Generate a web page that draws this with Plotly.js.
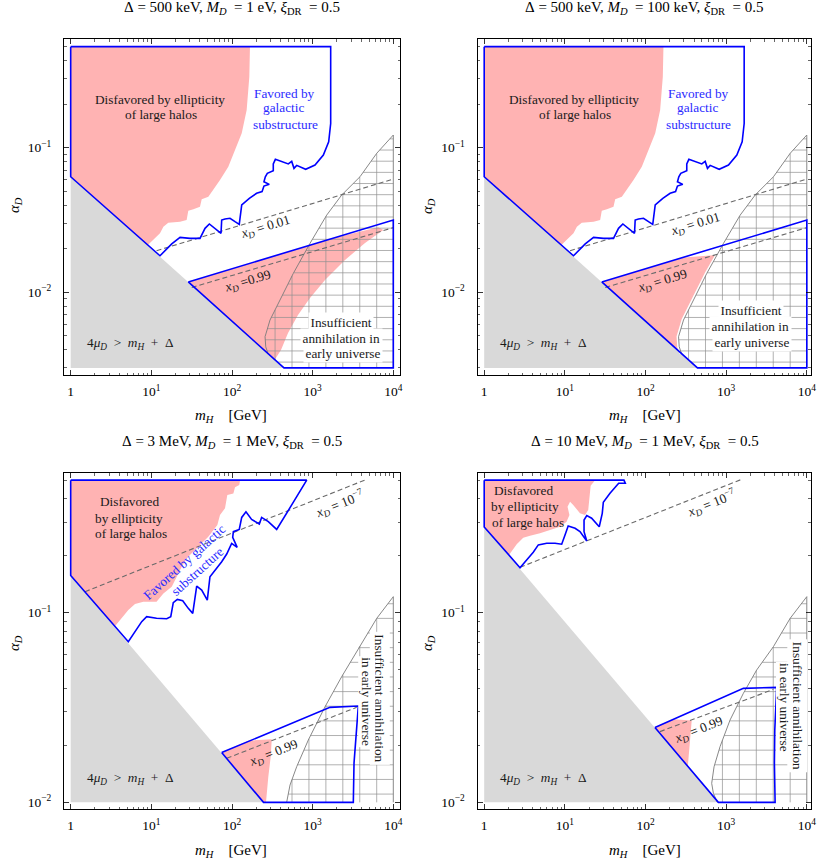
<!DOCTYPE html>
<html>
<head>
<meta charset="utf-8">
<script src="https://cdn.plot.ly/plotly-3.0.1.min.js"></script>
<style>
  html, body { margin: 0; padding: 0; background: #fff; }
  #plot { width: 817px; height: 865px; }
</style>
</head>
<body>
<div id="plot"></div>
<script>
// ---------------------------------------------------------------
// Dark-matter parameter space: m_H [GeV] versus alpha_D
// ---------------------------------------------------------------

// axis ticks
const xTickVals = [1, 10, 100, 1000, 10000];
const xTickText = ['1', '10<sup>1</sup>', '10<sup>2</sup>', '10<sup>3</sup>', '10<sup>4</sup>'];
const yTickVals = [0.01, 0.1];
const yTickText = ['10<sup>\u22122</sup>', '10<sup>\u22121</sup>'];

// data extent of each row
const mHmax = 10000;
const alphaMinTop = 0.003;     // Δ = 500 keV row
const alphaMinBottom = 0.01;   // Δ = 3 MeV / 10 MeV row

// ---------- Δ = 500 keV (top row, shared by both M_D values) ----------
// kinematically forbidden: 4 mu_D > m_H + Δ
const grayTopX = [1, 1, 441];
const grayTopY = [0.003, 0.063, 0.003];

// disfavored by ellipticity of large halos
const ellipTopX = [1, 167, 164, 152, 132, 114, 99, 90, 71, 58.7, 50.9, 42.1, 40.1, 33.2, 28.7, 27.4, 22.7, 16.2, 14.1, 12.8, 10.6, 8.92, 1];
const ellipTopY = [0.5, 0.5, 0.310, 0.182, 0.1257, 0.1016, 0.0822, 0.0739, 0.0598, 0.0510, 0.0458, 0.0440, 0.0391, 0.0375, 0.0367, 0.0316, 0.0308, 0.0303, 0.0284, 0.0256, 0.0230, 0.0211, 0.063];

// favored by galactic substructure (upper contour)
const favTopX = [1, 1673, 1673, 1580, 1357, 1069, 819, 634, 587, 550, 499, 394, 345, 325, 325, 274, 259, 249, 290, 249, 236, 202, 164, 132, 123, 109, 94.5, 81.9, 74.5, 73.1, 64.6, 52.4, 46.3, 40.1, 30.1, 22.7, 17.9, 12.8, 1];
const favTopY = [0.5, 0.5, 0.147, 0.110, 0.0890, 0.0759, 0.0709, 0.0755, 0.0720, 0.0804, 0.0772, 0.0809, 0.0831, 0.0772, 0.0694, 0.0665, 0.0630, 0.0582, 0.0558, 0.0543, 0.0497, 0.0484, 0.0447, 0.0402, 0.0295, 0.0308, 0.0325, 0.0321, 0.0316, 0.0256, 0.0270, 0.0297, 0.0277, 0.0236, 0.0236, 0.0240, 0.0216, 0.0179, 0.063];

// favored by galactic substructure (lower contour)
const lowTopX = [28.7, 10000, 10000, 441];
const lowTopY = [0.0118, 0.0316, 0.003, 0.003];

// x_D contours
const xd01X = [11.6, 10000];
const xd01Y = [0.0194, 0.0607];
const xd99TopX = [31.7, 10000];
const xd99TopY = [0.0108, 0.028];

// insufficient annihilation boundary
const annTopX = [10000, 6228, 3865, 2292, 1494, 927, 576, 394, 296, 257, 262, 280];
const annTopY = [0.1224, 0.0915, 0.0630, 0.0471, 0.0342, 0.0218, 0.01353, 0.00885, 0.00643, 0.00493, 0.0042, 0.00376];

// ellipticity-disfavored part of the lower contour, M_D = 1 eV
const ellipLow1X = [28.7, 2000, 6500, 7522, 4458, 2518, 1423, 927, 658, 495, 405, 339];
const ellipLow1Y = [0.0118, 0.0240, 0.0282, 0.0270, 0.02193, 0.01673, 0.01217, 0.00913, 0.00697, 0.00523, 0.00399, 0.00342];
// ... and for M_D = 100 keV
const ellipLow2X = [28.7, 300, 764, 576, 394, 296, 257, 262];
const ellipLow2Y = [0.0118, 0.0174, 0.0181, 0.01353, 0.00885, 0.00643, 0.00493, 0.0039];

// ---------- Δ = 3 MeV, M_D = 1 MeV ----------
const gray3X = [1, 1, 246];
const gray3Y = [0.01, 0.157, 0.01];
const ellip3X = [1, 126, 123, 109, 104, 87.5, 81.9, 71, 65.8, 58.7, 50.8, 40.1, 33.1, 27.4, 23.8, 20.6, 17.9, 14.1, 11.6, 7.96, 6.27, 5.18, 4.29, 3.5, 1];
const ellip3Y = [0.5, 0.5, 0.471, 0.458, 0.4257, 0.4173, 0.3549, 0.3272, 0.29, 0.2729, 0.2516, 0.2274, 0.2097, 0.1934, 0.1748, 0.1548, 0.1371, 0.1264, 0.1143, 0.1143, 0.1111, 0.1033, 0.0934, 0.0844, 0.157];
const fav3X = [1, 844, 550, 358, 282, 233, 218, 175, 149, 132, 123, 104, 102, 116, 99, 86, 74.5, 61.5, 53.3, 49.4, 42.1, 36.5, 32.6, 28.7, 24.5, 21.0, 18.7, 17.4, 15.5, 11.6, 8.75, 7.59, 6.27, 5.18, 1];
const fav3Y = [0.5, 0.5, 0.370, 0.275, 0.302, 0.318, 0.2935, 0.3105, 0.3407, 0.318, 0.275, 0.2674, 0.2495, 0.2211, 0.232, 0.2039, 0.1857, 0.168, 0.1548, 0.1166, 0.1317, 0.1382, 0.0992, 0.1054, 0.1157, 0.1175, 0.1129, 0.0953, 0.0930, 0.0934, 0.0953, 0.0897, 0.0794, 0.0703, 0.157];
const low3X = [74.5, 1641, 3683, 3258, 3193, 246];
const low3Y = [0.0183, 0.0317, 0.0322, 0.0161, 0.01, 0.01];
const ellipLow3X = [74.5, 159, 311, 302, 282, 269, 264, 246];
const ellipLow3Y = [0.0183, 0.02114, 0.0215, 0.0174, 0.01366, 0.01115, 0.01, 0.01];
const x7_3X = [1.504, 4680];
const x7_3Y = [0.129, 0.505];
const xd99_3X = [86, 3517];
const xd99_3Y = [0.01706, 0.0317];
const ann3X = [10000, 6225, 3683, 2291, 1423, 883, 634, 524, 476];
const ann3Y = [0.1215, 0.0933, 0.0649, 0.046, 0.0319, 0.0213, 0.01542, 0.01234, 0.01];

// ---------- Δ = 10 MeV, M_D = 1 MeV ----------
const gray4X = [1, 1, 801];
const gray4Y = [0.01, 0.283, 0.01];
const ellip4X = [1, 23.7, 20.9, 20.1, 19.5, 17.8, 15.4, 12.7, 11.6, 10.8, 11.4, 10.5, 8.71, 6.55, 4.92, 3.70, 3.05, 2.53, 2.19, 2.01, 1];
const ellip4Y = [0.5, 0.5, 0.4676, 0.4013, 0.348, 0.3276, 0.3344, 0.370, 0.385, 0.362, 0.3276, 0.302, 0.284, 0.273, 0.262, 0.2547, 0.2486, 0.2296, 0.2115, 0.200, 0.283];
const fav4X = [1, 54.1, 56.2, 46.5, 36.3, 30.0, 29.1, 26.7, 21.5, 18.7, 17.3, 17.3, 18.7, 15.4, 13.4, 11.0, 10.05, 9.14, 7.55, 5.96, 4.69, 4.06, 3.36, 2.78, 1];
const fav4Y = [0.5, 0.5, 0.481, 0.481, 0.426, 0.382, 0.334, 0.284, 0.315, 0.325, 0.308, 0.2675, 0.2388, 0.2675, 0.2787, 0.2866, 0.257, 0.2296, 0.2323, 0.2323, 0.2277, 0.2083, 0.1897, 0.1727, 0.283];
const low4X = [131, 1636, 4237, 4009, 3966, 4048, 801];
const low4Y = [0.0248, 0.0399, 0.0404, 0.0241, 0.0161, 0.01, 0.01];
const ellipLow4X = [131, 222, 374, 357, 350, 335];
const ellipLow4Y = [0.0248, 0.0274, 0.0270, 0.0213, 0.0174, 0.0155];
const x7_4X = [2.78, 1560];
const x7_4Y = [0.1735, 0.505];
const xd99_4X = [151, 3855];
const xd99_4Y = [0.0236, 0.0394];
const ann4X = [10000, 6209, 3855, 2393, 1637, 1119, 841, 708, 662, 695, 778];
const ann4Y = [0.1215, 0.0933, 0.0662, 0.0499, 0.0376, 0.0272, 0.0197, 0.0154, 0.0126, 0.01115, 0.01];

// ---------------------------------------------------------------
// styling
// ---------------------------------------------------------------
const W = 817, H = 865;
const FONT = '"Liberation Serif", "Times New Roman", serif';
const BLUE = '#0000ff';
const PINK = '#ffb3b3';
const GRAYFILL = '#d9d9d9';
const MESH = '#8f8f8f';
const EDGE = '#7a7a7a';
const DASHC = '#6a6a6a';
const TEXTC = '#1a1a1a';

// cross-hatch spacing (in decades) for the annihilation region
const meshX0 = 3.794, meshDX = 0.21;
const meshYTop0 = -1.016, meshYBot0 = -1.03, meshDY = 0.0772;

const log10 = Math.log10;
const close = a => a.concat([a[0]]);

function fillTrace(xs, ys, color, ax) {
  return { type: 'scatter', mode: 'lines', x: xs, y: ys, fill: 'toself', fillcolor: color,
           line: { width: 0, color: color }, xaxis: ax[0], yaxis: ax[1], hoverinfo: 'skip', showlegend: false };
}
function lineTrace(xs, ys, color, width, dash, ax) {
  return { type: 'scatter', mode: 'lines', x: xs, y: ys,
           line: { width: width, color: color, dash: dash || 'solid' },
           xaxis: ax[0], yaxis: ax[1], hoverinfo: 'skip', showlegend: false, connectgaps: false };
}

// lines of the cross-hatch pattern clipped to a polygon (computed in log space)
function meshSegments(polyX, polyY, yStart, yLo, yHi) {
  const px = polyX.map(log10), py = polyY.map(log10);
  const n = px.length;
  const xmin = Math.min(...px), xmax = Math.max(...px);
  const outX = [], outY = [];
  function cut(c, a, b) {           // crossings of line a == c, returning b
    const hits = [];
    for (let i = 0; i < n; i++) {
      const j = (i + 1) % n;
      const a1 = a[i], a2 = a[j];
      if ((a1 <= c && a2 > c) || (a2 <= c && a1 > c)) {
        const t = (c - a1) / (a2 - a1);
        hits.push(b[i] + t * (b[j] - b[i]));
      }
    }
    return hits.sort((u, v) => u - v);
  }
  for (let c = meshX0; c > xmin; c -= meshDX) {
    if (c >= xmax) continue;
    const h = cut(c, px, py);
    for (let k = 0; k + 1 < h.length; k += 2) {
      outX.push(10 ** c, 10 ** c, null); outY.push(10 ** h[k], 10 ** h[k + 1], null);
    }
  }
  const ys = [];
  for (let c = yStart; c < yHi; c += meshDY) ys.push(c);
  for (let c = yStart - meshDY; c > yLo; c -= meshDY) ys.push(c);
  ys.forEach(c => {
    const h = cut(c, py, px);
    for (let k = 0; k + 1 < h.length; k += 2) {
      outX.push(10 ** h[k], 10 ** h[k + 1], null); outY.push(10 ** c, 10 ** c, null);
    }
  });
  return { x: outX, y: outY };
}

function panel(ax, p) {
  const tr = [];
  tr.push(fillTrace(p.ellipX, p.ellipY, PINK, ax));
  tr.push(fillTrace(p.ellipLowX, p.ellipLowY, PINK, ax));
  tr.push(fillTrace(p.grayX, p.grayY, GRAYFILL, ax));
  if (p.whiteEdge) tr.push(lineTrace(p.annX, p.annY, '#ffffff', 4, null, ax));
  const polyX = p.annX.concat(p.annCloseX), polyY = p.annY.concat(p.annCloseY);
  const m = meshSegments(polyX, polyY, p.meshY0, log10(p.yMin), log10(p.annY[0]));
  tr.push(lineTrace(m.x, m.y, MESH, 0.7, null, ax));
  tr.push(lineTrace([mHmax].concat(p.annX), [p.yMin].concat(p.annY), EDGE, 0.9, null, ax));
  p.dashes.forEach(d => tr.push(lineTrace(d[0], d[1], DASHC, 1.1, '5px,3px', ax)));
  tr.push(lineTrace(close(p.favX), close(p.favY), BLUE, 1.6, null, ax));
  tr.push(lineTrace(close(p.lowX), close(p.lowY), BLUE, 1.6, null, ax));
  return tr;
}

const traces = [].concat(
  panel(['x', 'y'], {
    grayX: grayTopX, grayY: grayTopY, ellipX: ellipTopX, ellipY: ellipTopY,
    ellipLowX: ellipLow1X, ellipLowY: ellipLow1Y, favX: favTopX, favY: favTopY,
    lowX: lowTopX, lowY: lowTopY, annX: annTopX, annY: annTopY,
    annCloseX: [grayTopX[2], mHmax], annCloseY: [alphaMinTop, alphaMinTop],
    yMin: alphaMinTop, meshY0: meshYTop0, whiteEdge: false,
    dashes: [[xd01X, xd01Y], [xd99TopX, xd99TopY]]
  }),
  panel(['x2', 'y2'], {
    grayX: grayTopX, grayY: grayTopY, ellipX: ellipTopX, ellipY: ellipTopY,
    ellipLowX: ellipLow2X, ellipLowY: ellipLow2Y, favX: favTopX, favY: favTopY,
    lowX: lowTopX, lowY: lowTopY, annX: annTopX, annY: annTopY,
    annCloseX: [grayTopX[2], mHmax], annCloseY: [alphaMinTop, alphaMinTop],
    yMin: alphaMinTop, meshY0: meshYTop0, whiteEdge: true,
    dashes: [[xd01X, xd01Y], [xd99TopX, xd99TopY]]
  }),
  panel(['x3', 'y3'], {
    grayX: gray3X, grayY: gray3Y, ellipX: ellip3X, ellipY: ellip3Y,
    ellipLowX: ellipLow3X, ellipLowY: ellipLow3Y, favX: fav3X, favY: fav3Y,
    lowX: low3X, lowY: low3Y, annX: ann3X, annY: ann3Y,
    annCloseX: [mHmax], annCloseY: [alphaMinBottom],
    yMin: alphaMinBottom, meshY0: meshYBot0, whiteEdge: false,
    dashes: [[x7_3X, x7_3Y], [xd99_3X, xd99_3Y]]
  }),
  panel(['x4', 'y4'], {
    grayX: gray4X, grayY: gray4Y, ellipX: ellip4X, ellipY: ellip4Y,
    ellipLowX: ellipLow4X, ellipLowY: ellipLow4Y, favX: fav4X, favY: fav4Y,
    lowX: low4X, lowY: low4Y, annX: ann4X, annY: ann4Y,
    annCloseX: [mHmax], annCloseY: [alphaMinBottom],
    yMin: alphaMinBottom, meshY0: meshYBot0, whiteEdge: false,
    dashes: [[x7_4X, x7_4Y], [xd99_4X, xd99_4Y]]
  })
);

// ---------------------------------------------------------------
// axes
// ---------------------------------------------------------------
function minorTicks(lo, hi) {
  const v = [];
  for (let d = 1e-3; d < 1e4; d *= 10)
    for (let k = 2; k <= 9; k++) { const t = +(k * d).toPrecision(3); if (t >= lo && t <= hi) v.push(t); }
  return v;
}
function axisBase(domainPx, horizontal, range, anchor, vals, text, minorVals) {
  const dom = horizontal ? [domainPx[0] / W, domainPx[1] / W] : [1 - domainPx[1] / H, 1 - domainPx[0] / H];
  return {
    type: 'log', domain: dom, range: range, autorange: false, anchor: anchor,
    showgrid: false, zeroline: false, showline: true, linecolor: '#000', linewidth: 1,
    mirror: 'allticks', ticks: 'inside', ticklen: 5, tickwidth: 0.8, tickcolor: '#000',
    tickmode: 'array', tickvals: vals, ticktext: text,
    ticklabelstandoff: horizontal ? 4 : 9,
    tickfont: { family: FONT, size: 13.5, color: '#000' },
    minor: { tickmode: 'array', tickvals: minorVals, ticks: 'inside', ticklen: 2.5, tickwidth: 0.6, tickcolor: '#000', showgrid: false },
    fixedrange: true
  };
}
const xMinor = minorTicks(1, 1e4);
const yMinorTop = minorTicks(0.003, 0.5);
const yMinorBot = minorTicks(0.01, 0.5);

const xRangeL = [-0.083, 4.083];
const xRangeR = [-0.083, 4.046];
const yRangeTop = [-2.572, -0.248];
const yRangeBot = [-2.035, -0.265];

// ---------------------------------------------------------------
// labels
// ---------------------------------------------------------------
const IN_SIZE = 13.3;
function label(text, x, y, o) {
  return Object.assign({
    text: text, x: x / W, y: 1 - y / H, xref: 'paper', yref: 'paper', showarrow: false,
    xanchor: 'center', yanchor: 'middle', borderpad: 0,
    font: { family: FONT, size: IN_SIZE, color: TEXTC }
  }, o || {});
}
const S = '\u00A0';
const big = { family: FONT, size: 15, color: '#000' };
const blueFont = { family: FONT, size: IN_SIZE, color: '#2b2bff' };
const kin = '4<i>\u03bc</i><sub><i>D</i></sub>' + S + S + '>' + S + S + '<i>m</i><sub><i>H</i></sub>' + S + S + '+' + S + S + '\u0394';
const xTitle = '<i>m</i><sub><i>H</i></sub>' + S + S + S + S + '[GeV]';
const yTitle = '<i>\u03b1</i><sub><i>D</i></sub>';
function head(d, md) {
  return '\u0394' + S + '=' + S + d + ',' + S + '<i>M</i><sub><i>D</i></sub>' + S + S + '=' + S + md + ',' + S +
         '<i>\u03be</i><sub>DR</sub>' + S + S + '=' + S + '0.5';
}
const xd = '<i>x</i><sub><i>D</i></sub>';
const boxed = { bgcolor: '#fff', borderpad: 1.5 };
const boxedV = { bgcolor: '#fff', borderpad: 2, textangle: 90 };
const boxedVNarrow = { bgcolor: '#fff', borderpad: 0.5, textangle: 90 };

const annotations = [
  // titles
  label(head('500 keV', '1 eV'), 232, 8, { font: big }),
  label(head('500 keV', '100 keV'), 644, 8, { font: big }),
  label(head('3 MeV', '1 MeV'), 232, 442, { font: big }),
  label(head('10 MeV', '1 MeV'), 645, 442, { font: big }),
  // axis titles
  label(xTitle, 231, 416, { font: big }),
  label(xTitle, 645, 416, { font: big }),
  label(xTitle, 231, 851, { font: big }),
  label(xTitle, 645, 851, { font: big }),
  label(yTitle, 15, 205, { font: big, textangle: -90 }),
  label(yTitle, 428, 206, { font: big, textangle: -90 }),
  label(yTitle, 15, 643, { font: big, textangle: -90 }),
  label(yTitle, 428, 643, { font: big, textangle: -90 }),

  // panel 1
  label('Disfavored by ellipticity', 160, 100),
  label('of large halos', 161, 115),
  label('Favored by', 284.5, 93, { font: blueFont }),
  label('galactic', 283.5, 108, { font: blueFont }),
  label('substructure', 285, 124, { font: blueFont }),
  label(xd + S + '=' + S + '0.01', 265, 228, { textangle: -16.8 }),
  label(xd + S + '=0.99', 248, 282, { textangle: -16.8 }),
  label('Insufficient', 341, 322.5, boxed),
  label('annihilation in', 341, 338, boxed),
  label('early universe', 342.5, 353, boxed),
  label(kin, 130, 343),

  // panel 2
  label('Disfavored by ellipticity', 573.5, 100),
  label('of large halos', 574.5, 115),
  label('Favored by', 698, 93, { font: blueFont }),
  label('galactic', 697, 108, { font: blueFont }),
  label('substructure', 698.5, 124, { font: blueFont }),
  label(xd + S + '=' + S + '0.01', 695.5, 225, { textangle: -16.8 }),
  label(xd + S + '=' + S + '0.99', 662, 282, { textangle: -16.8 }),
  label('Insufficient', 750.7, 310, boxed),
  label('annihilation in', 750.7, 326, boxed),
  label('early universe', 752.3, 341.7, boxed),
  label(kin, 543.3, 343.3),

  // panel 3
  label('Disfavored', 129.3, 501.7),
  label('by ellipticity', 129.3, 518.3),
  label('of large halos', 130.7, 533.3),
  label('Favored by galactic', 184, 562.3, { font: blueFont, textangle: -42 }),
  label('substructure', 197.2, 571.7, { font: blueFont, textangle: -42 }),
  label(xd + S + '=' + S + '10<sup>\u22127</sup>', 339, 504, { textangle: -21.8 }),
  label(xd + S + '=' + S + '0.99', 273.3, 753.3, { textangle: -21.8 }),
  label('Insufficient annihilation', 380, 698.3, boxedV),
  label('in early universe', 367, 701.7, boxedVNarrow),
  label(kin, 130, 778.3),

  // panel 4
  label('Disfavored', 523.3, 490),
  label('by ellipticity', 525, 506.7),
  label('of large halos', 528.3, 522.3),
  label(xd + S + '=' + S + '10<sup>\u22127</sup>', 711.7, 503.3, { textangle: -21.8 }),
  label(xd + S + '=' + S + '0.99', 698.3, 730, { textangle: -21.8 }),
  label('Insufficient annihilation', 797, 705.8, boxedV),
  label('in early universe', 785, 707.5, boxedVNarrow),
  label(kin, 543.3, 778.3)
];

const layout = {
  width: W, height: H,
  margin: { l: 0, r: 0, t: 0, b: 0 },
  paper_bgcolor: '#fff', plot_bgcolor: '#fff',
  showlegend: false,
  xaxis:  axisBase([64, 400], true, xRangeL, 'y', xTickVals, xTickText, xMinor),
  yaxis:  axisBase([39, 375], false, yRangeTop, 'x', yTickVals, yTickText, yMinorTop),
  xaxis2: axisBase([477.5, 810.5], true, xRangeR, 'y2', xTickVals, xTickText, xMinor),
  yaxis2: axisBase([39, 375], false, yRangeTop, 'x2', yTickVals, yTickText, yMinorTop),
  xaxis3: axisBase([64, 400], true, xRangeL, 'y3', xTickVals, xTickText, xMinor),
  yaxis3: axisBase([473.3, 809], false, yRangeBot, 'x3', yTickVals, yTickText, yMinorBot),
  xaxis4: axisBase([477.5, 810.5], true, xRangeR, 'y4', xTickVals, xTickText, xMinor),
  yaxis4: axisBase([473.3, 809], false, yRangeBot, 'x4', yTickVals, yTickText, yMinorBot),
  annotations: annotations
};

Plotly.newPlot('plot', traces, layout, { staticPlot: true, displayModeBar: false });
</script>
</body>
</html>
